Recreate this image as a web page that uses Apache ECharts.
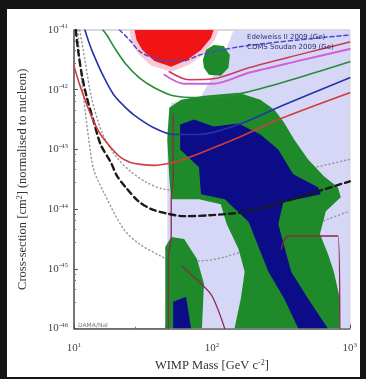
<!DOCTYPE html>
<html>
<head>
<meta charset="utf-8">
<script src="https://cdn.jsdelivr.net/npm/echarts@6/dist/echarts.min.js"></script>
<style>
html, body { margin: 0; padding: 0; background: #141414; width: 366px; height: 379px; overflow: hidden; }
#chart { position: absolute; left: 7px; top: 9px; width: 353px; height: 368px; background: #fff; filter: blur(0.75px); }
</style>
</head>
<body>
<div id="chart"></div>
<script>
// [WIMP mass GeV, cross-section cm^2]
const xExponents = [1, 2, 3];
const yExponents = [-46, -45, -44, -43, -42, -41];

const lavenderRegion = [[47.5, 1e-46], [47.5, 2.15e-43], [50.7, 6.07e-43], [80.6, 6.81e-43], [103, 1.78e-42], [122, 3.83e-42], [144, 1e-41], [1000, 1e-41], [1000, 1e-46]];
const greenRegion = [[49.1, 5.01e-43], [59.8, 6.81e-43], [87.6, 7.94e-43], [156, 8.91e-43], [225, 6.81e-43], [284, 4.64e-43], [330, 2.93e-43], [395, 1.47e-43], [499, 6.81e-44], [650, 3.55e-44], [820, 2.33e-44], [861, 1.58e-44], [671, 9.26e-45], [608, 3.83e-45], [695, 1.78e-45], [767, 8.91e-46], [847, 3.16e-46], [847, 1e-46], [146, 1e-46], [162, 3.16e-46], [173, 8.91e-46], [156, 2.15e-45], [128, 5.62e-45], [116, 1.21e-44], [80.6, 1.47e-44], [50.7, 1.47e-44], [49.1, 3.41e-44], [47.5, 1.47e-43]];
const greenBand = [[45.9, 1e-46], [45.9, 2.33e-45], [50.7, 3.41e-45], [62.9, 3.16e-45], [78.0, 1.47e-45], [87.6, 5.62e-46], [84.7, 1e-46]];
const greenTopBlob = [[86.1, 3.16e-42], [90.6, 4.64e-42], [103, 5.62e-42], [122, 5.41e-42], [135, 3.83e-42], [132, 2.33e-42], [116, 1.71e-42], [95.1, 1.78e-42], [87.6, 2.33e-42]];
const blueRegion = [[58.9, 2.61e-43], [74.2, 3.16e-43], [103, 2.42e-43], [156, 2.71e-43], [225, 1.78e-43], [303, 1e-43], [389, 3.83e-44], [589, 2.33e-44], [618, 1.78e-44], [330, 1.31e-44], [303, 5.62e-45], [376, 8.91e-46], [499, 3.16e-46], [695, 1e-46], [423, 1e-46], [335, 3.16e-46], [257, 8.91e-46], [185, 6.07e-45], [124, 1.47e-44], [83.4, 1.78e-44], [80.6, 5.01e-44], [58.9, 1e-43]];
const blueBlob = [[52.4, 2.82e-46], [65.0, 3.41e-46], [70.6, 1e-46], [52.4, 1e-46]];
const damaHalo = [[25.3, 1e-41], [112, 1e-41], [105, 6.81e-42], [87.6, 3.98e-42], [68.3, 2.61e-42], [50.7, 2.0e-42], [36.4, 2.51e-42], [29.3, 3.98e-42], [26.1, 6.31e-42]];
const damaRegion = [[27.5, 1e-41], [103, 1e-41], [98.4, 7.36e-42], [83.4, 4.64e-42], [66.1, 3.16e-42], [50.7, 2.42e-42], [38.3, 3.04e-42], [31.3, 4.64e-42], [28.4, 6.81e-42]];

const greenLimit = [[16.2, 1e-41], [17.3, 8.25e-42], [19.7, 5.01e-42], [24.0, 2.61e-42], [29.8, 1.58e-42], [38.3, 1.08e-42], [52.4, 7.94e-43], [80.6, 7.36e-43], [102, 7.36e-43], [185, 9.26e-43], [423, 1.58e-42], [1000, 2.93e-42]];
const blueLimit = [[12.0, 1e-41], [12.8, 6.31e-42], [13.9, 3.83e-42], [16.4, 1.65e-42], [19.4, 8.25e-43], [22.9, 5.41e-43], [27.0, 3.83e-43], [37.6, 2.33e-43], [52.4, 1.78e-43], [80.6, 1.78e-43], [156, 2.61e-43], [335, 5.62e-43], [1000, 1.58e-42]];
const redLimit = [[10, 2.51e-42], [11.0, 1.21e-42], [12.4, 5.62e-43], [13.9, 2.93e-43], [15.6, 1.78e-43], [18.5, 1.08e-43], [21.8, 7.36e-44], [25.7, 6.07e-44], [30.3, 5.62e-44], [38.3, 5.41e-44], [52.4, 6.07e-44], [61.9, 6.81e-44], [84.7, 8.91e-44], [156, 1.58e-43], [303, 3.16e-43], [1000, 8.91e-43]];
const pinkLimit = [[49.1, 2.0e-42], [68.3, 1.47e-42], [102, 1.52e-42], [185, 2.33e-42], [423, 3.83e-42], [1000, 6.31e-42]];
const magentaLimit = [[45.2, 1.78e-42], [62.9, 1.26e-42], [102, 1.26e-42], [185, 1.92e-42], [423, 3.04e-42], [1000, 4.82e-42]];
const blueDashed = [[21.4, 1e-41], [25.3, 6.81e-42], [30.3, 4.30e-42], [42.3, 3.16e-42], [61.9, 3.04e-42], [82.0, 3.83e-42], [156, 5.21e-42], [423, 6.81e-42], [1000, 8.25e-42]];
const blackDashed = [[10.3, 1e-41], [10.7, 4.64e-42], [11.4, 1.78e-42], [12.4, 7.36e-43], [13.9, 2.93e-43], [15.6, 1.21e-43], [18.5, 6.07e-44], [20.4, 3.69e-44], [23.7, 2.33e-44], [29.3, 1.36e-44], [36.4, 1e-44], [45.9, 8.58e-45], [61.9, 7.64e-45], [100, 7.94e-45], [185, 9.26e-45], [423, 1.58e-44], [1000, 2.93e-44]];
const dottedOuter = [[10.7, 1e-41], [11.0, 3.16e-42], [11.8, 6.81e-43], [12.8, 1.47e-43], [13.9, 4.64e-44], [16.7, 1.78e-44], [22.9, 4.64e-45], [29.8, 2.61e-45], [42.3, 1.65e-45], [47.5, 1.47e-45], [80.6, 1.36e-45], [124, 1.58e-45], [303, 3.16e-45], [695, 6.81e-45], [1000, 9.26e-45]];
const dottedInner = [[11.0, 1e-41], [12.0, 3.16e-42], [13.5, 6.81e-43], [16.2, 1.78e-43], [20.4, 7.36e-44], [25.7, 4.30e-44], [33.5, 2.82e-44], [45.2, 2.15e-44], [80.6, 2.0e-44], [185, 2.61e-44], [423, 4.30e-44], [1000, 6.81e-44]];
const maroonLeft = [[52.4, 3.83e-43], [52.4, 3.41e-44], [50.7, 1.47e-44], [50.7, 3.55e-45], [48.3, 1.47e-45], [48.3, 1e-46]];
const maroonRight = [[319, 2.15e-45], [358, 3.55e-45], [820, 3.55e-45], [847, 1e-46]];
const maroonMid = [[60.8, 1.12e-45], [80.6, 6.07e-46], [100, 3.55e-46], [124, 1e-46]];

const legendLines = ['Edelweiss II 2009 (Ge)', 'CDMS Soudan 2009 (Ge)'];

// log axis ticks lose tiny values to rounding, so y is plotted in units of 1e-46 cm^2
const Y_UNIT = 1e-46;
const toChart = pts => pts.map(p => [p[0], p[1] / Y_UNIT]);

function polygonSeries(pts, color, z) {
    const data = toChart(pts);
    return {
        type: 'custom', z, silent: true, clip: true,
        data, encode: { x: 0, y: 1 },
        renderItem: (params, api) => {
            if (params.dataIndex !== 0) return;
            return { type: 'polygon', shape: { points: data.map(p => api.coord(p)) }, style: { fill: color } };
        }
    };
}

function lineSeries(pts, color, width, type, z) {
    return {
        type: 'line', z, silent: true, clip: true,
        data: toChart(pts), symbol: 'none', smooth: 0.3,
        lineStyle: { color, width, type, cap: 'round' }
    };
}

const supRich = {
    b: { fontFamily: 'Liberation Serif', fontSize: 11, color: '#444', lineHeight: 14 },
    s: { fontFamily: 'Liberation Serif', fontSize: 7, color: '#444', verticalAlign: 'top', lineHeight: 8 }
};
const nameStyle = {
    fontFamily: 'Liberation Serif', fontSize: 12.5, color: '#333',
    rich: { s: { fontFamily: 'Liberation Serif', fontSize: 8, color: '#333', verticalAlign: 'top', lineHeight: 8 } }
};

const chart = echarts.init(document.getElementById('chart'));
chart.setOption({
    animation: false,
    grid: { left: 67, top: 21, width: 278, height: 300, show: true, borderColor: '#b5b5b5', borderWidth: 1 },
    xAxis: {
        type: 'log', logBase: 10, min: 10, max: 1000,
        name: 'WIMP Mass [GeV c{s|-2}]', nameLocation: 'middle', nameGap: 29,
        nameTextStyle: nameStyle,
        axisLine: { lineStyle: { color: '#555', width: 1.5 } },
        axisTick: { inside: true, length: 4, lineStyle: { color: '#555' } },
        minorTick: { show: true, splitNumber: 5, length: 2, lineStyle: { color: '#777' } },
        splitLine: { show: false },
        axisLabel: {
            margin: 13, rich: supRich,
            formatter: v => '{b|10}{s|' + xExponents[Math.round(Math.log10(v)) - 1] + '}'
        }
    },
    yAxis: {
        type: 'log', logBase: 10, min: 1, max: 1e5,
        name: 'Cross-section [cm{s|2}] (normalised to nucleon)', nameLocation: 'middle', nameGap: 45,
        nameTextStyle: nameStyle,
        axisLine: { lineStyle: { color: '#555', width: 1.5 } },
        axisTick: { inside: true, length: 4, lineStyle: { color: '#555' } },
        minorTick: { show: true, splitNumber: 5, length: 2, lineStyle: { color: '#777' } },
        splitLine: { show: false },
        axisLabel: {
            margin: 6, rich: supRich,
            formatter: v => '{b|10}{s|' + yExponents[Math.round(Math.log10(v))] + '}'
        }
    },
    graphic: [
        { type: 'text', left: 240, top: 25, z: 100, style: { text: legendLines[0], fill: '#303070', font: '7px "DejaVu Sans"' } },
        { type: 'text', left: 240, top: 35, z: 100, style: { text: legendLines[1], fill: '#303070', font: '7px "DejaVu Sans"' } },
        { type: 'text', left: 71, top: 313, z: 100, style: { text: 'DAMA/NaI', fill: '#777', font: '6px "DejaVu Sans"' } }
    ],
    series: [
        polygonSeries(lavenderRegion, '#d6d6f6', 1),
        lineSeries(dottedOuter, '#9a9a9a', 1.5, [1, 3], 2),
        lineSeries(dottedInner, '#9a9a9a', 1.5, [1, 3], 2),
        polygonSeries(greenRegion, '#1f8a2a', 3),
        polygonSeries(greenBand, '#1f8a2a', 3),
        polygonSeries(blueRegion, '#0c0c88', 4),
        polygonSeries(blueBlob, '#0c0c88', 4),
        polygonSeries(damaHalo, '#f7cad9', 4),
        polygonSeries(damaRegion, '#f01414', 5),
        polygonSeries(greenTopBlob, '#1f8a2a', 5),
        lineSeries(maroonLeft, '#8a2a4a', 1.3, 'solid', 6),
        lineSeries(maroonRight, '#8a2a4a', 1.3, 'solid', 6),
        lineSeries(maroonMid, '#8a2a4a', 1.3, 'solid', 6),
        lineSeries(blackDashed, '#1a1a1a', 2.4, [6, 4], 7),
        lineSeries(blueDashed, '#4a4ad0', 1.5, [4, 3], 7),
        lineSeries(magentaLimit, '#d060d8', 2, 'solid', 7),
        lineSeries(pinkLimit, '#cc3a5a', 1.5, 'solid', 7),
        lineSeries(greenLimit, '#2a8a3a', 1.6, 'solid', 7),
        lineSeries(blueLimit, '#2434a8', 1.6, 'solid', 7),
        lineSeries(redLimit, '#d03c3c', 1.6, 'solid', 7)
    ]
});
</script>
</body>
</html>
